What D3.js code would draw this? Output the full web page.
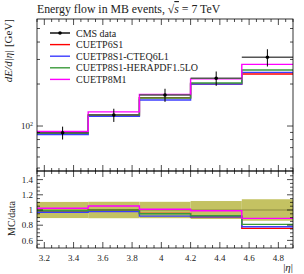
<!DOCTYPE html>
<html>
<head>
<meta charset="utf-8">
<script src="https://cdn.jsdelivr.net/npm/d3@7"></script>
<style>
  body { margin: 0; background: #fff; }
  text { font-family: "Liberation Serif", "DejaVu Serif", serif; fill: #222; }
</style>
</head>
<body>
<svg id="graph"></svg>
<script>
// bin edges in |eta|
var edges = [3.15, 3.5, 3.85, 4.2, 4.55, 4.9];
var cmsData = [89.5, 120, 167, 220, 311];
var cmsErr = [9.5, 13, 18, 26, 44];

var seriesNames = ["CUETP6S1", "CUETP8S1-CTEQ6L1", "CUETP8S1-HERAPDF1.5LO", "CUETP8M1"];
var cuetp6s1 = [88.2, 120, 159.5, 200, 236];
var cteq6l1 = [86.8, 117.4, 153.6, 200, 242.6];
var herapdf = [88.6, 120, 158.7, 203.5, 252];
var cuetp8m1 = [91.5, 126.4, 168.7, 217.8, 276.8];
var seriesColors = ["#ff0000", "#3c3cff", "#3a9a3a", "#ff00ff"];

var xTicks = [3.2, 3.4, 3.6, 3.8, 4, 4.2, 4.4, 4.6, 4.8];
var ratioTicks = [0.6, 0.8, 1, 1.2, 1.4];

var svg = d3.select("#graph")
    .attr("width", 304)
    .attr("height", 274);

var pLeft = 37, pRight = 293, pTop = 19, pMid = 171, pBottom = 248;

var x = d3.scaleLinear().domain([3.15, 4.9]).range([pLeft, pRight]);
var y = d3.scaleLog().domain([47.6, 585]).range([pMid, pTop]);
var yr = d3.scaleLinear().domain([0.5, 1.5]).range([pBottom, 172]);

var series = [cuetp6s1, cteq6l1, herapdf, cuetp8m1];

function steps(vals, sc) {
    var pts = [];
    vals.forEach(function(v, i) {
        pts.push([edges[i], v]);
        pts.push([edges[i + 1], v]);
    });
    return d3.line()
        .x(function(d) { return x(d[0]); })
        .y(function(d) { return sc(d[1]); })(pts);
}

/* title */
var title = svg.append("text")
    .attr("x", pLeft)
    .attr("y", 13)
    .style("font-size", "11.8px");
title.append("tspan").text("Energy flow in MB events, ");
title.append("tspan").text("\u221A");
title.append("tspan").style("font-style", "italic").style("text-decoration", "overline").text("s");
title.append("tspan").text(" = 7 TeV");

/* ---- main panel ---- */
var main = svg.append("g");

series.forEach(function(s, k) {
    main.append("path")
        .attr("d", steps(s, y))
        .attr("fill", "none")
        .attr("stroke", seriesColors[k])
        .attr("stroke-width", 1.4);
});

// data
var bins = cmsData.map(function(v, i) {
    return { lo: edges[i], hi: edges[i + 1], v: v, e: cmsErr[i] };
});
var pts = main.selectAll(".pt")
    .data(bins)
  .enter().append("g")
    .attr("class", "pt");
pts.append("line")
    .attr("x1", function(d) { return x(d.lo); })
    .attr("x2", function(d) { return x(d.hi); })
    .attr("y1", function(d) { return y(d.v); })
    .attr("y2", function(d) { return y(d.v); })
    .attr("stroke", "#555")
    .attr("stroke-width", 1.4);
pts.append("line")
    .attr("x1", function(d) { return x((d.lo + d.hi) / 2); })
    .attr("x2", function(d) { return x((d.lo + d.hi) / 2); })
    .attr("y1", function(d) { return y(d.v - d.e); })
    .attr("y2", function(d) { return y(d.v + d.e); })
    .attr("stroke", "#000")
    .attr("stroke-width", 1);
pts.append("circle")
    .attr("cx", function(d) { return x((d.lo + d.hi) / 2); })
    .attr("cy", function(d) { return y(d.v); })
    .attr("r", 1.8)
    .attr("fill", "#000");

// legend
var legNames = ["CMS data"].concat(seriesNames);
var legColors = ["#000"].concat(seriesColors);
var leg = svg.selectAll(".leg")
    .data(legNames)
  .enter().append("g")
    .attr("class", "leg")
    .attr("transform", function(d, i) { return "translate(50," + (33 + i * 11.6) + ")"; });
leg.append("line")
    .attr("x1", 0).attr("x2", 20)
    .attr("stroke", function(d, i) { return legColors[i]; })
    .attr("stroke-width", 1.4);
leg.filter(function(d, i) { return i == 0; })
    .append("circle").attr("cx", 10).attr("r", 1.8).attr("fill", "#000");
leg.append("text")
    .attr("x", 26)
    .attr("dy", "0.35em")
    .style("font-size", "10px")
    .text(function(d) { return d; });

// main y ticks (log)
var logTicks = [];
[10, 100].forEach(function(dec) {
    for (var m = 1; m < 10; m++) {
        var v = dec * m;
        if (v >= 47.6 && v <= 585) logTicks.push(v);
    }
});
logTicks.forEach(function(v) {
    var len = (v == 100) ? 6 : 3;
    main.append("line").attr("x1", pLeft).attr("x2", pLeft + len)
        .attr("y1", y(v)).attr("y2", y(v)).attr("stroke", "#000").attr("stroke-width", 0.7);
    main.append("line").attr("x1", pRight).attr("x2", pRight - len)
        .attr("y1", y(v)).attr("y2", y(v)).attr("stroke", "#000").attr("stroke-width", 0.7);
});
var lab = main.append("text")
    .attr("x", pLeft - 4)
    .attr("y", y(100))
    .attr("dy", "0.35em")
    .attr("text-anchor", "end")
    .style("font-size", "9px");
lab.append("tspan").text("10");
lab.append("tspan").attr("dy", "-0.45em").style("font-size", "6px").text("2");

main.append("rect")
    .attr("x", pLeft).attr("y", pTop)
    .attr("width", pRight - pLeft).attr("height", pMid - pTop)
    .attr("fill", "none").attr("stroke", "#000").attr("stroke-width", 0.8);

// y label main
var yl = svg.append("text")
    .attr("transform", "translate(12," + pTop + ") rotate(-90)")
    .attr("text-anchor", "end")
    .style("font-size", "11px");
yl.append("tspan").style("font-style", "italic").text("dE/d|\u03B7|");
yl.append("tspan").text(" [GeV]");

/* ---- ratio panel ---- */
var rp = svg.append("g");

rp.selectAll(".band")
    .data(bins)
  .enter().append("rect")
    .attr("x", function(d) { return x(d.lo); })
    .attr("width", function(d) { return x(d.hi) - x(d.lo); })
    .attr("y", function(d) { return yr(1 + d.e / d.v); })
    .attr("height", function(d) { return yr(1 - d.e / d.v) - yr(1 + d.e / d.v); })
    .attr("fill", "#c4c262");

rp.append("line")
    .attr("x1", pLeft).attr("x2", pRight)
    .attr("y1", yr(1)).attr("y2", yr(1))
    .attr("stroke", "#8a8a40").attr("stroke-width", 1);

series.forEach(function(s, k) {
    var r = s.map(function(v, i) { return v / cmsData[i]; });
    rp.append("path")
        .attr("d", steps(r, yr))
        .attr("fill", "none")
        .attr("stroke", seriesColors[k])
        .attr("stroke-width", 1.4);
});

// ratio y ticks
for (var t = 0.55; t < 1.5; t += 0.05) {
    var tv = Math.round(t * 100) / 100;
    var major = ratioTicks.indexOf(tv) >= 0;
    var len = major ? 6 : 3;
    rp.append("line").attr("x1", pLeft).attr("x2", pLeft + len)
        .attr("y1", yr(tv)).attr("y2", yr(tv)).attr("stroke", "#000").attr("stroke-width", 0.7);
    rp.append("line").attr("x1", pRight).attr("x2", pRight - len)
        .attr("y1", yr(tv)).attr("y2", yr(tv)).attr("stroke", "#000").attr("stroke-width", 0.7);
}
rp.selectAll(".rlab")
    .data(ratioTicks)
  .enter().append("text")
    .attr("x", pLeft - 4)
    .attr("y", function(d) { return yr(d); })
    .attr("dy", "0.35em")
    .attr("text-anchor", "end")
    .style("font-size", "9px")
    .text(function(d) { return d; });

rp.append("rect")
    .attr("x", pLeft).attr("y", pMid)
    .attr("width", pRight - pLeft).attr("height", pBottom - pMid)
    .attr("fill", "none").attr("stroke", "#000").attr("stroke-width", 0.8);

svg.append("text")
    .attr("transform", "translate(15,201) rotate(-90)")
    .attr("text-anchor", "end")
    .style("font-size", "10px")
    .text("MC/data");

// x ticks on all horizontal frame edges
for (var xv = 3.15; xv <= 4.9; xv += 0.05) {
    var xx = Math.round(xv * 100) / 100;
    var isMajor = Math.abs(xx * 5 - Math.round(xx * 5)) < 1e-6;
    var l = isMajor ? 6 : 3;
    [[pTop, 1], [pMid, -1], [pMid, 1], [pBottom, -1]].forEach(function(p) {
        svg.append("line")
            .attr("x1", x(xx)).attr("x2", x(xx))
            .attr("y1", p[0]).attr("y2", p[0] + p[1] * l)
            .attr("stroke", "#000").attr("stroke-width", 0.7);
    });
}
svg.selectAll(".xlab")
    .data(xTicks)
  .enter().append("text")
    .attr("x", function(d) { return x(d); })
    .attr("y", pBottom + 13)
    .attr("text-anchor", "middle")
    .style("font-size", "9px")
    .text(function(d) { return d; });

svg.append("text")
    .attr("x", pRight)
    .attr("y", 271)
    .attr("text-anchor", "end")
    .style("font-size", "11px")
    .html("|<tspan style='font-style:italic'>\u03B7</tspan>|");
</script>
</body>
</html>
